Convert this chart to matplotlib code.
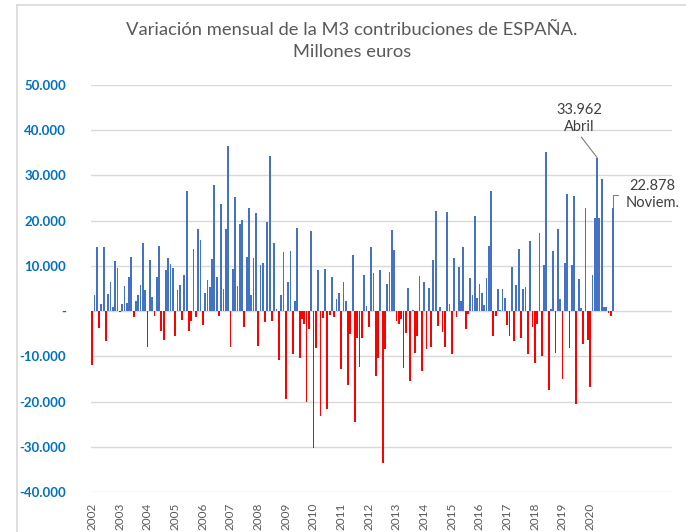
import numpy as np
import matplotlib
matplotlib.use("Agg")
import matplotlib.pyplot as plt
from matplotlib.lines import Line2D

# Variación mensual M3 (millones de euros), ene-2002 .. nov-2020
v2002 = [-11.9, 3.6, 14.2, -3.8, 1.5, 14.1, -6.5, 3.7, 6.5, 1.0, 11.1, 9.6]
v2003 = [-0.3, 1.6, 5.6, 1.8, 7.6, 11.9, -1.2, 2.3, 3.5, 5.7, 15.1, 4.6]
v2004 = [-7.9, 11.2, 3.1, -1.1, 7.6, 14.4, -4.3, -6.4, 9.0, 11.8, 10.5, 9.5]
v2005 = [-5.6, 4.6, 5.7, -1.9, 8.0, 26.5, -4.5, -2.1, 13.7, -1.2, 18.1, 15.7]
v2006 = [-3.0, 4.0, 6.9, 5.4, 11.5, 27.8, 7.6, -1.1, 23.6, 5.0, 18.2, 36.6]
v2007 = [-7.9, 9.4, 25.3, 5.6, 19.2, 20.1, -3.6, 12.0, 22.7, 3.5, 11.8, 21.8]
v2008 = [-7.8, 10.2, 10.6, -2.5, 19.7, 34.4, -2.1, 15.1, 0.5, -10.8, 3.6, 13.1]
v2009 = [-19.4, 6.5, 13.4, -9.4, 2.3, 18.4, -10.3, -1.8, -2.9, -20.1, -4.0, 17.8]
v2010 = [-30.2, -8.1, 9.1, -23.3, -1.5, 9.3, -21.7, -0.8, 7.6, -1.2, 2.6, 4.0]
v2011 = [-12.8, 6.5, 2.3, -16.4, -5.1, 12.4, -24.5, -5.9, -12.3, -6.0, 7.9, 1.2]
v2012 = [-3.6, 14.2, 8.4, -14.3, -10.3, 9.1, -33.5, -8.4, 5.9, 8.7, 17.9, 13.6]
v2013 = [-2.1, -2.9, -1.8, -12.6, -4.9, 5.1, -15.5, 0.2, -9.3, -5.6, 7.7, -13.3]
v2014 = [6.4, -8.4, 5.2, -8.0, 11.2, 22.2, -3.2, 1.0, -4.6, -7.9, 21.9, 1.6]
v2015 = [-9.5, 11.7, -1.2, 9.8, 2.3, 14.2, -4.0, -0.7, 7.3, 3.5, 21.1, 2.8]
v2016 = [5.9, 3.9, 1.4, 7.3, 14.5, 26.5, -5.5, -1.0, 4.8, 0.3, 4.8, 2.9]
v2017 = [-3.1, -5.6, 9.8, -6.7, 5.7, 13.7, -5.9, 4.9, 5.3, -9.5, 15.4, -3.6]
v2018 = [-11.5, -2.9, 17.3, -10.0, 10.2, 35.1, -17.4, 0.4, 13.3, -9.3, 18.2, 2.6]
v2019 = [-15.1, 10.7, 26.0, -8.1, 10.3, 25.4, -20.6, 7.2, 0.7, -7.2, 22.9, -6.3]
v2020 = [-16.8, 7.9, 20.6, 33.962, 20.7, 29.3, 0.9, 1.0, -0.5, -1.1, 22.878]

years = list(range(2002, 2021))
yticks = [50000, 40000, 30000, 20000, 10000, 0, -10000, -20000, -30000, -40000]

values = np.array(v2002 + v2003 + v2004 + v2005 + v2006 + v2007 + v2008 + v2009 + v2010
                  + v2011 + v2012 + v2013 + v2014 + v2015 + v2016 + v2017 + v2018
                  + v2019 + v2020) * 1000
months = np.arange(len(values))

blue = "#4472C4"
red = "#FF0000"
grey = "#595959"

fig = plt.figure(figsize=(6.86, 5.32), dpi=100)
ax = fig.add_axes([91 / 686, 1 - 492 / 532, 581 / 686, 407 / 532])

colors = [blue if v >= 0 else red for v in values]
ax.bar(months, values, width=0.78, color=colors, zorder=3)

ax.set_ylim(-40000, 50000)
ax.set_xlim(-0.5, 251.5)
ax.set_yticks(yticks)
ax.set_yticklabels(["-" if t == 0 else f"{t:,}".replace(",", ".") for t in yticks],
                   color="#0070C0", fontweight="bold", fontsize=9.5, family="Lato")
ax.set_xticks([12 * (y - 2002) for y in years])
ax.set_xticklabels([str(y) for y in years], rotation=90, color=grey, fontsize=8.5,
                   family="Lato", va="top")
ax.tick_params(length=0)
ax.tick_params(axis="y", pad=18)
ax.tick_params(axis="x", pad=8)
ax.grid(axis="y", color="#D9D9D9", lw=1, zorder=0)
for s in ax.spines.values():
    s.set_visible(False)

# labels for April and November 2020
apr = 12 * 18 + 3
nov = 12 * 18 + 10
ax.annotate(f"{values[apr] / 1000:.3f}\nAbril", xy=(apr, values[apr]),
            xytext=(-18, 39), textcoords="offset pixels", ha="center", va="center",
            fontsize=10.5, color="#404040", family="Lato", linespacing=1.3,
            arrowprops=dict(arrowstyle="-", color="#7F7F7F", lw=0.8,
                            shrinkA=0, shrinkB=0, relpos=(0.5, 0)))
ax.annotate(f"{values[nov] / 1000:.3f}\nNoviem.", xy=(nov, values[nov]),
            xytext=(39, 13), textcoords="offset pixels", ha="center", va="center",
            fontsize=10.5, color="#404040", family="Lato", linespacing=1.3,
            arrowprops=dict(arrowstyle="-", color="#7F7F7F", lw=0.8,
                            shrinkA=3, shrinkB=0, relpos=(0, 0.5),
                            connectionstyle="angle,angleA=180,angleB=90,rad=0"))

fig.text(352 / 686, 1 - 41 / 532,
         "Variación mensual de la M3 contribuciones de ESPAÑA.\nMillones euros",
         ha="center", va="center", fontsize=13.2, color=grey, family="Lato",
         linespacing=1.45)

# chart border
fig.add_artist(Line2D([16.7 / 686, 16.7 / 686], [0, 1 - 5.3 / 532], color="#D9D9D9", lw=1.2))
fig.add_artist(Line2D([16.7 / 686, 1], [1 - 5.3 / 532, 1 - 5.3 / 532], color="#D9D9D9", lw=1.2))

fig.savefig("out.png", dpi=100)
